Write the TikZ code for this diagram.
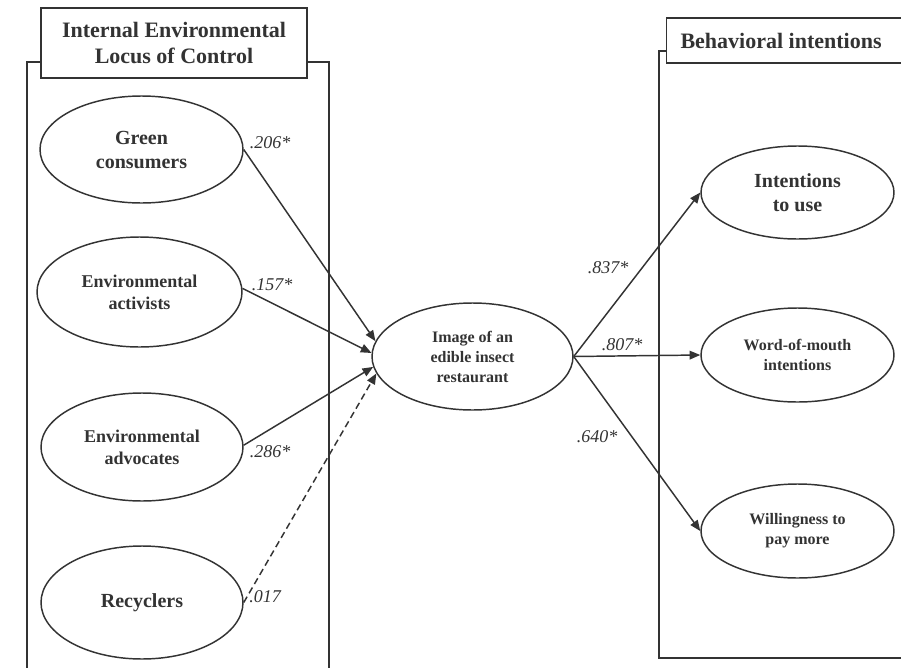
\documentclass[tikz,border=0pt]{standalone}
\usepackage{fontspec}
\setmainfont{Liberation Serif}
\usetikzlibrary{shapes.geometric,arrows.meta}
\definecolor{ink}{HTML}{333333}
\begin{document}
\begin{tikzpicture}[x=0.75pt,y=-0.75pt,
  line width=1.1pt, draw=ink, text=ink,
  oval/.style={ellipse, draw=ink, line width=1.1pt, inner sep=0pt, align=center, font=\bfseries},
  titlebox/.style={draw=ink, fill=white, line width=1.1pt, inner sep=0pt, align=center, font=\bfseries\fontsize{16.5}{20}\selectfont},
  coef/.style={font=\itshape\fontsize{13.5}{16}\selectfont, inner sep=0pt, text=ink},
  arr/.style={draw=ink, line width=1.1pt, -{Triangle[length=8pt,width=6.5pt]}}
]
\useasboundingbox (0,0) rectangle (901,668);
\fill[white] (0,0) rectangle (901,668);

% left group box
\draw (27,680) -- (27,62) -- (329,62) -- (329,680);
\node[titlebox, minimum width=266*0.75pt, minimum height=70*0.75pt] (tl) at (174,43) {Internal Environmental\\Locus of Control};

% right group box
\draw (910,51) -- (659,51) -- (659,658) -- (910,658);
\node[titlebox, minimum width=250*0.75pt, minimum height=45*0.75pt, anchor=west] (tr) at (666,40.5) {\hspace*{-16pt}Behavioral intentions};

% left ellipses
\node[oval, minimum width=203*0.75pt, minimum height=107*0.75pt, font=\bfseries\fontsize{15}{18}\selectfont] (gc) at (141.5,149.5) {Green\\consumers};
\node[oval, minimum width=205*0.75pt, minimum height=110*0.75pt, font=\bfseries\fontsize{13.5}{16.5}\selectfont] (ea) at (139.5,292) {Environmental\\activists};
\node[oval, minimum width=202*0.75pt, minimum height=108*0.75pt, font=\bfseries\fontsize{13.5}{16.5}\selectfont] (ev) at (142,447) {Environmental\\advocates};
\node[oval, minimum width=202*0.75pt, minimum height=113*0.75pt, font=\bfseries\fontsize{15}{18}\selectfont] (rc) at (142,602.5) {Recyclers};

% center
\node[oval, minimum width=201*0.75pt, minimum height=107*0.75pt, font=\bfseries\fontsize{12}{15}\selectfont] (img) at (472.5,356.5) {Image of an\\edible insect\\restaurant};

% right ellipses
\node[oval, minimum width=193*0.75pt, minimum height=93*0.75pt, font=\bfseries\fontsize{15}{18}\selectfont] (iu) at (797.5,192.5) {Intentions\\to use};
\node[oval, minimum width=193*0.75pt, minimum height=94*0.75pt, font=\bfseries\fontsize{12}{15}\selectfont] (wm) at (797.5,355) {Word-of-mouth\\intentions};
\node[oval, minimum width=193*0.75pt, minimum height=94*0.75pt, font=\bfseries\fontsize{12}{15}\selectfont] (wp) at (797.5,531) {Willingness to\\pay more};

% connectors
\draw[arr] (gc.east) -- (img.171);
\draw[arr] (ea.2) -- (img.178);
\draw[arr] (ev.1) -- (img.186);
\draw[arr, dashed, dash pattern=on 5pt off 3pt] (rc.east) -- (img.190);
\draw[arr] (img.east) -- (iu.west);
\draw[arr] (img.east) -- (wm.west);
\draw[arr] (img.east) -- (wp.west);

% coefficients
\node[coef] (c1) at (270,143) {.206*};
\node[coef] (c2) at (272,285) {.157*};
\node[coef] (c3) at (270,452) {.286*};
\node[coef] (c4) at (265,597) {.017};
\node[coef] (c5) at (608,268) {.837*};
\node[coef] (c6) at (622,345) {.807*};
\node[coef] (c7) at (597,437) {.640*};
\end{tikzpicture}
\end{document}
